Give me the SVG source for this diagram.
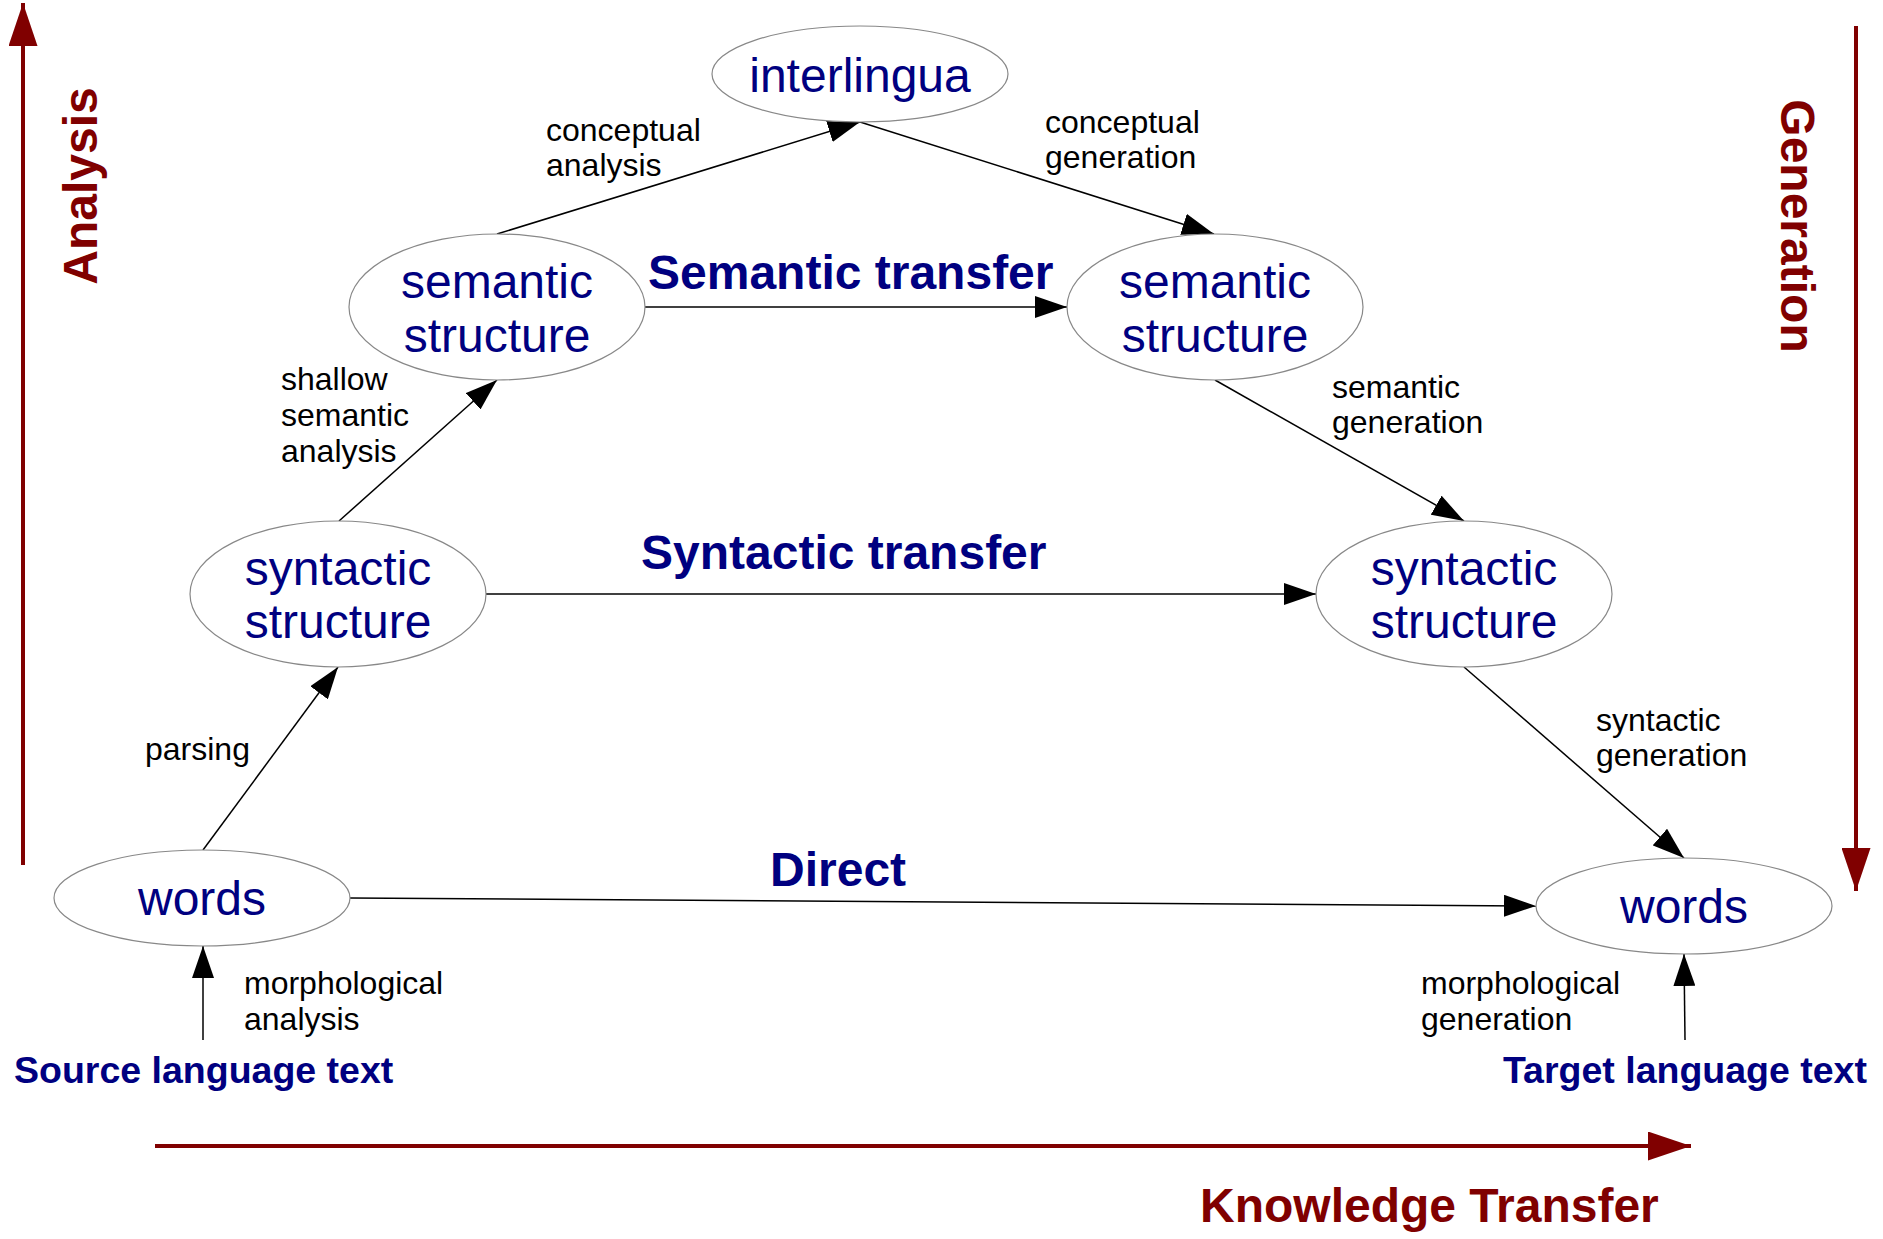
<svg xmlns="http://www.w3.org/2000/svg" width="1883" height="1239" viewBox="0 0 1883 1239">
<style>
.node ellipse{fill:#fff;stroke:#888;stroke-width:1.2}
.nt{font-family:"Liberation Sans",Arial,sans-serif;font-size:48px;fill:#000080;text-anchor:middle}
.lbl{font-family:"Liberation Sans",Arial,sans-serif;font-size:32px;fill:#000}
.bl{font-family:"Liberation Sans",Arial,sans-serif;font-weight:bold;fill:#000080}
.red{font-family:"Liberation Sans",Arial,sans-serif;font-weight:bold;font-size:48px;fill:#800000}
.con line{stroke:#000;stroke-width:1.5;marker-end:url(#ah)}
.ax line{stroke:#800000;stroke-width:4;marker-end:url(#rh)}
</style>
<defs>
<marker id="ah" markerUnits="userSpaceOnUse" markerWidth="32" markerHeight="22" refX="32" refY="11" orient="auto"><path d="M0,0 L32,11 L0,22 z" fill="#000"/></marker>
<marker id="rh" markerUnits="userSpaceOnUse" markerWidth="43" markerHeight="29" refX="43" refY="14.5" orient="auto"><path d="M0,0 L43,14.5 L0,29 z" fill="#800000"/></marker>
</defs>
<rect width="1883" height="1239" fill="#fff"/>
<g id="axes" class="ax">
<line x1="23" y1="865" x2="23" y2="3"/>
<line x1="1856" y1="26" x2="1856" y2="891"/>
<line x1="155" y1="1146" x2="1691" y2="1146"/>
</g>
<g id="connectors" class="con">
<line x1="497" y1="234" x2="860" y2="122"/>
<line x1="860" y1="122" x2="1214" y2="234"/>
<line x1="645" y1="307" x2="1067" y2="307"/>
<line x1="339" y1="521" x2="497" y2="380"/>
<line x1="1215" y1="380" x2="1464" y2="521"/>
<line x1="486" y1="594" x2="1316" y2="594"/>
<line x1="203" y1="850" x2="338" y2="667"/>
<line x1="1464" y1="667" x2="1684" y2="858"/>
<line x1="350" y1="898" x2="1536" y2="906"/>
<line x1="203" y1="1040" x2="203" y2="946"/>
<line x1="1685" y1="1040" x2="1684" y2="954"/>
</g>
<g id="interlingua" class="node"><ellipse cx="860" cy="74" rx="148" ry="48"/><text class="nt" x="860" y="92">interlingua</text></g>
<g id="sem-src" class="node"><ellipse cx="497" cy="307" rx="148" ry="73"/><text class="nt" x="497" y="298">semantic</text><text class="nt" x="497" y="352">structure</text></g>
<g id="sem-tgt" class="node"><ellipse cx="1215" cy="307" rx="148" ry="73"/><text class="nt" x="1215" y="298">semantic</text><text class="nt" x="1215" y="352">structure</text></g>
<g id="syn-src" class="node"><ellipse cx="338" cy="594" rx="148" ry="73"/><text class="nt" x="338" y="585">syntactic</text><text class="nt" x="338" y="638">structure</text></g>
<g id="syn-tgt" class="node"><ellipse cx="1464" cy="594" rx="148" ry="73"/><text class="nt" x="1464" y="585">syntactic</text><text class="nt" x="1464" y="638">structure</text></g>
<g id="words-src" class="node"><ellipse cx="202" cy="898" rx="148" ry="48"/><text class="nt" x="202" y="915">words</text></g>
<g id="words-tgt" class="node"><ellipse cx="1684" cy="906" rx="148" ry="48"/><text class="nt" x="1684" y="923">words</text></g>
<g id="labels">
<text class="lbl" x="546" y="141">conceptual</text><text class="lbl" x="546" y="176">analysis</text>
<text class="lbl" x="1045" y="133">conceptual</text><text class="lbl" x="1045" y="168">generation</text>
<text class="lbl" x="281" y="390">shallow</text><text class="lbl" x="281" y="426">semantic</text><text class="lbl" x="281" y="462">analysis</text>
<text class="lbl" x="1332" y="398">semantic</text><text class="lbl" x="1332" y="433">generation</text>
<text class="lbl" x="145" y="760">parsing</text>
<text class="lbl" x="1596" y="731">syntactic</text><text class="lbl" x="1596" y="766">generation</text>
<text class="lbl" x="244" y="994">morphological</text><text class="lbl" x="244" y="1030">analysis</text>
<text class="lbl" x="1421" y="994">morphological</text><text class="lbl" x="1421" y="1030">generation</text>
<text class="bl" x="648" y="289" font-size="48">Semantic transfer</text>
<text class="bl" x="641" y="569" font-size="48">Syntactic transfer</text>
<text class="bl" x="770" y="886" font-size="48">Direct</text>
<text class="bl" x="14" y="1083" font-size="37.5">Source language text</text>
<text class="bl" x="1503" y="1083" font-size="37.5">Target language text</text>
<text class="red" transform="translate(97,186) rotate(-90)" text-anchor="middle">Analysis</text>
<text class="red" transform="translate(1781,226) rotate(90)" text-anchor="middle">Generation</text>
<text class="red" x="1200" y="1222">Knowledge Transfer</text>
</g>
</svg>
